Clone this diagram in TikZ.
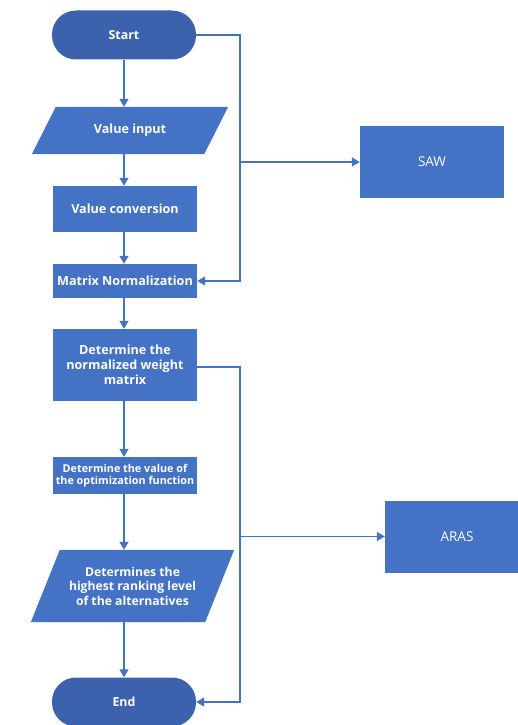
\documentclass[tikz,border=0pt]{standalone}
\usepackage{fontspec}
\setmainfont{Open Sans}
\usepackage{tikz}
\usetikzlibrary{positioning,arrows.meta,calc}
\definecolor{flowblue}{HTML}{4472C4}
\definecolor{termblue}{HTML}{3C62AE}

\begin{document}
\begin{tikzpicture}[x=1pt, y=-1pt,
    stepBox/.style={rectangle, fill=flowblue, text=white, font=\bfseries\fontsize{12.6}{15}\selectfont, align=center, inner sep=2pt},
    termBox/.style={rectangle, rounded corners=24pt, fill=termblue, text=white, font=\bfseries\fontsize{12.4}{14}\selectfont, minimum width=144pt, minimum height=49pt},
    ioBox/.style={rectangle, text=white, font=\bfseries\fontsize{12.6}{15}\selectfont, align=center, inner sep=0pt},
    sideBox/.style={rectangle, fill=flowblue, text=white, font=\fontsize{13.5}{15}\selectfont, minimum width=144pt, minimum height=72pt},
    flowLine/.style={draw=flowblue, line width=1.2pt},
    flowArrow/.style={flowLine, -{Triangle[width=9pt,length=8pt]}}
]
    \useasboundingbox (0,0) rectangle (518,725);

    % main column
    \node[termBox] (start) at (124,35) {Start};

    \node[ioBox, minimum width=172pt, minimum height=47pt] (vin) at (130,130.5) {};
    \fill[flowblue] ($(vin.north west)+(12,0)$) -- ($(vin.north east)+(12,0)$)
        -- ($(vin.south east)+(-12,0)$) -- ($(vin.south west)+(-12,0)$) -- cycle;
    \node[ioBox] at (vin) {Value input};

    \node[stepBox, minimum width=144pt, minimum height=46pt] (vconv) at (125,209) {Value conversion};
    \node[stepBox, minimum width=144pt, minimum height=34pt] (mnorm) at (125,281) {Matrix Normalization};
    \node[stepBox, minimum width=144pt, minimum height=72pt] (wmat) at (125,365)
        {Determine the\\normalized weight\\matrix};
    \node[stepBox, minimum width=144pt, minimum height=37pt, font=\bfseries\fontsize{10.8}{12.5}\selectfont] (optf) at (125,475.5)
        {Determine the value of\\the optimization function};

    \node[ioBox, minimum width=174pt, minimum height=72pt] (rank) at (132.5,586) {};
    \fill[flowblue] ($(rank.north west)+(14.5,0)$) -- ($(rank.north east)+(14.5,0)$)
        -- ($(rank.south east)+(-14.5,0)$) -- ($(rank.south west)+(-14.5,0)$) -- cycle;
    \node[ioBox, font=\bfseries\fontsize{12.2}{14.5}\selectfont] at (rank) {Determines the\\highest ranking level\\of the alternatives};

    \node[termBox] (end) at (124,702) {End};

    % side methods
    \node[sideBox] (saw) at (432,162) {SAW};
    \node[sideBox] (aras) at (457,536.5) {ARAS};

    \coordinate (busA) at (240,35);
    \coordinate (busB) at (240,367);

    % connectors
    \draw[flowArrow] (start.south) -- (start.south |- vin.north);
    \draw[flowArrow] (vin.south -| start.south) -- (start.south |- vconv.north);
    \draw[flowArrow] (vconv.south -| start.south) -- (start.south |- mnorm.north);
    \draw[flowArrow] (mnorm.south -| start.south) -- (start.south |- wmat.north);
    \draw[flowArrow] (wmat.south -| start.south) -- (start.south |- optf.north);
    \draw[flowArrow] (optf.south -| start.south) -- (start.south |- rank.north);
    \draw[flowArrow] (rank.south -| start.south) -- (end.north);

    \draw[flowArrow] (start.east) -- (busA) |- (mnorm.east);
    \draw[flowArrow] (busA |- saw.west) -- (saw.west);
    \draw[flowArrow] (busB -| wmat.east) -- (busB) |- (end.east);
    \draw[flowArrow] (busB |- aras.west) -- (aras.west);
\end{tikzpicture}
\end{document}
